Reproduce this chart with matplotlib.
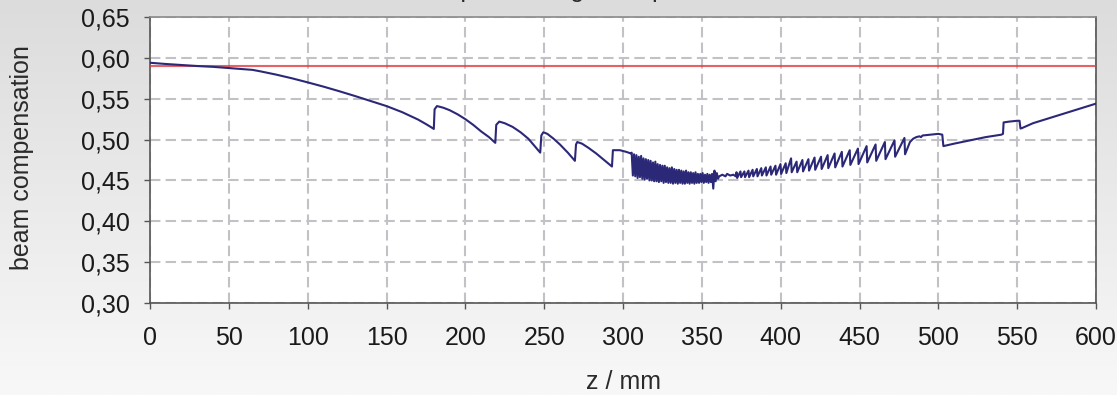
import numpy as np
import matplotlib
matplotlib.use("Agg")
import matplotlib.pyplot as plt
from matplotlib.ticker import FuncFormatter

plt.rcParams['font.family'] = ['Liberation Sans', 'DejaVu Sans']

# smooth part up to the oscillating region
part1_z = [0, 10, 20, 30, 40, 50, 60, 65, 70, 80, 90, 100, 110, 120, 130, 140, 150, 160, 165, 170, 175, 178, 180,
           180.5, 182, 186, 190, 195, 200, 205, 210, 215, 219,
           219.6, 221.5, 225, 230, 235, 240, 244, 247.5,
           248.2, 249.5, 252, 256, 260, 265, 269.5,
           270.2, 271, 274, 278, 283, 288, 293,
           293.6, 298, 302, 305]
part1_v = [0.594, 0.5925, 0.5912, 0.590, 0.589, 0.5875, 0.586, 0.5853, 0.5835, 0.5795, 0.575, 0.570, 0.5648, 0.5592, 0.5533, 0.5472, 0.541, 0.5335, 0.529, 0.5245, 0.519, 0.5155, 0.513,
           0.537, 0.541, 0.539, 0.536, 0.531, 0.525, 0.518, 0.510, 0.503, 0.496,
           0.518, 0.522, 0.520, 0.5155, 0.509, 0.501, 0.492, 0.484,
           0.505, 0.509, 0.507, 0.501, 0.494, 0.484, 0.474,
           0.494, 0.497, 0.495, 0.490, 0.483, 0.475, 0.467,
           0.487, 0.487, 0.485, 0.483]

# dense oscillation 305..360
dense_z = [305.5 + 1.5 * i for i in range(37)]
dense_hi = [0.484, 0.482, 0.481, 0.479, 0.480, 0.477, 0.476, 0.475, 0.474, 0.472, 0.473, 0.470, 0.469,
            0.468, 0.468, 0.466, 0.465, 0.466, 0.464, 0.463, 0.463, 0.462, 0.461, 0.462, 0.460, 0.460,
            0.459, 0.460, 0.458, 0.458, 0.459, 0.457, 0.458, 0.457, 0.458, 0.462, 0.459]
dense_lo = [0.456, 0.455, 0.453, 0.454, 0.452, 0.451, 0.452, 0.450, 0.450, 0.449, 0.449, 0.448, 0.449,
            0.447, 0.448, 0.447, 0.447, 0.446, 0.447, 0.446, 0.447, 0.446, 0.446, 0.447, 0.446, 0.447,
            0.446, 0.447, 0.447, 0.448, 0.447, 0.448, 0.447, 0.448, 0.440, 0.449, 0.452]

# flat piece
part2_z = [361, 363, 365, 366, 368, 370, 371.5]
part2_v = [0.455, 0.457, 0.455, 0.458, 0.456, 0.457, 0.455]

# rising sawtooth 372..480
ramp_z = [372.0, 374.5, 377.0, 379.6, 382.2, 384.9, 387.7, 390.6, 393.6, 396.7, 399.9, 403.2, 406.6, 410.1,
          413.8, 417.6, 421.5, 425.6, 429.8, 434.2, 438.8, 443.8, 449.0, 454.5, 460.2, 466.1, 472.2, 478.5]
ramp_hi = [0.460, 0.461, 0.461, 0.462, 0.463, 0.464, 0.465, 0.466, 0.467, 0.468, 0.470, 0.471, 0.477, 0.473,
           0.475, 0.476, 0.478, 0.479, 0.481, 0.483, 0.485, 0.487, 0.489, 0.492, 0.494, 0.497, 0.499, 0.502]
ramp_lo = [0.453, 0.454, 0.454, 0.454, 0.455, 0.455, 0.456, 0.456, 0.457, 0.457, 0.458, 0.459, 0.460, 0.460,
           0.461, 0.462, 0.463, 0.464, 0.465, 0.466, 0.467, 0.469, 0.470, 0.472, 0.474, 0.476, 0.479, 0.482]

# end part
part3_z = [482, 484, 486, 488, 489, 490, 495, 500, 502.5, 503.2, 510, 520, 530, 540, 541,
           541.4, 545, 550, 551.5, 552.1, 553, 560, 570, 580, 590, 600]
part3_v = [0.497, 0.501, 0.503, 0.504, 0.503, 0.505, 0.506, 0.507, 0.506, 0.492, 0.495, 0.499, 0.503, 0.506, 0.507,
           0.521, 0.522, 0.523, 0.523, 0.5135, 0.514, 0.520, 0.526, 0.532, 0.538, 0.544]

red_z = [0, 600]
red_v = [0.5905, 0.5905]

x_ticks = [0, 50, 100, 150, 200, 250, 300, 350, 400, 450, 500, 550, 600]
y_ticks = [0.30, 0.35, 0.40, 0.45, 0.50, 0.55, 0.60, 0.65]

# assemble blue curve
bz, bv = list(part1_z), list(part1_v)
for z, hi, lo in zip(dense_z, dense_hi, dense_lo):
    bz += [z, z + 0.75]
    bv += [hi, lo]
bz += part2_z
bv += part2_v
for z, hi, lo in zip(ramp_z, ramp_hi, ramp_lo):
    bz += [z, z + 0.4]
    bv += [hi, lo]
bz += part3_z
bv += part3_v

W, H = 1117, 395
fig = plt.figure(figsize=(W / 100, H / 100), dpi=100)

# gray gradient background
bg = fig.add_axes([0, 0, 1, 1], zorder=-10)
grad = np.linspace(0, 1, 256).reshape(-1, 1)
bg.imshow(grad, aspect='auto', cmap=matplotlib.colors.LinearSegmentedColormap.from_list('g', ['#dcdcdc', '#f8f8f8']),
          extent=[0, 1, 0, 1])
bg.axis('off')

ax = fig.add_axes([150 / W, 1 - 303 / H, (1096 - 150) / W, (303 - 17) / H])
ax.set_facecolor('white')
ax.plot(red_z, red_v, color='#e23a3f', lw=1.5, alpha=0.8, zorder=3)
ax.plot(bz, bv, color='#2c2878', lw=1.5, zorder=4)

ax.set_xlim(0, 600)
ax.set_ylim(0.30, 0.65)
ax.set_xticks(x_ticks)
ax.set_yticks(y_ticks)
ax.yaxis.set_major_formatter(FuncFormatter(lambda v, p: f"{v:.2f}".replace('.', ',')))
ax.grid(True, color='#c2c2c6', lw=1.5, linestyle=(0, (5, 2.5)))
ax.set_axisbelow(True)
ax.tick_params(direction='out', length=4.5, width=1, color='#555555', labelsize=18,
               labelcolor='#1a1a1a')
ax.tick_params(axis='y', pad=10)
ax.tick_params(axis='x', pad=12)
for s in ['left', 'bottom', 'right']:
    ax.spines[s].set_color('#555555')
    ax.spines[s].set_linewidth(1.2)
ax.spines['top'].set_color('#8a8a8a')
ax.spines['top'].set_linewidth(1.2)

fig.text(623 / W, 1 - 382 / H, 'z / mm', fontsize=18, color='#2a2a2a', ha='center', va='center')
fig.text(22 / W, 1 - 158 / H, 'beam compensation', fontsize=18, color='#2a2a2a', ha='center', va='center',
         rotation=90)
# title sits mostly above the top edge, as in the original
fig.text(448 / W, 1 + 3.3 / H, 'space charge compensation', fontsize=18, color='#2a2a2a',
         ha='left', va='baseline')

fig.savefig('out.png', dpi=100)
